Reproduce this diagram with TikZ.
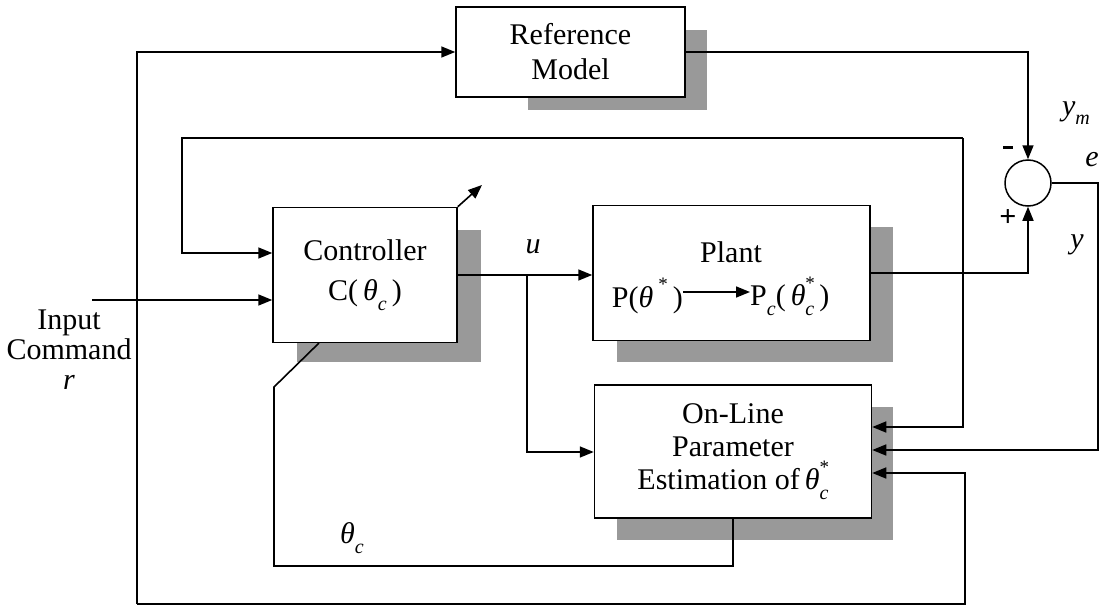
\documentclass[tikz,border=0pt]{standalone}
\usepackage{fontspec}
\setmainfont{Liberation Serif}
\usetikzlibrary{arrows.meta}
\newcommand{\lo}[1]{\raisebox{-0.32em}{\fontsize{20}{20}\selectfont\itshape #1}}
\newcommand{\hi}[1]{\raisebox{0.55em}{\fontsize{19}{19}\selectfont #1}}
\newcommand{\ssb}[2]{\rlap{\hi{#2}}\lo{#1}}
\newcommand{\thet}{{\itshape θ}}
\begin{document}
\begin{tikzpicture}[x=1pt,y=-1pt,
  font=\fontsize{30}{35}\selectfont,
  blk/.style={draw,line width=1.5pt,fill=white,inner sep=0pt,align=center},
  shd/.style={fill=black!40},
  ln/.style={line width=1.6pt},
  arr/.style={line width=1.6pt,-{Triangle[length=14pt,width=11pt]}},
  lbl/.style={inner sep=0pt}]
\useasboundingbox (0,0) rectangle (1100,610);
\fill[white] (0,0) rectangle (1100,610);
% shadows
\fill[shd] (528,30) rectangle (707,110);
\fill[shd] (297,230) rectangle (481,362);
\fill[shd] (617,227) rectangle (893,362);
\fill[shd] (617,407) rectangle (893,540);
% blocks
\node[blk,minimum width=229pt,minimum height=90pt] (ref) at (570.5,52) {Reference\\Model};
\node[blk,minimum width=184pt,minimum height=135pt,font=\fontsize{30}{40}\selectfont] (ctrl) at (365,275) {Controller\\C(\,\thet\lo{c}\,)};
\node[blk,minimum width=277pt,minimum height=135pt] (plant) at (731.5,273) {};
\node[blk,minimum width=277pt,minimum height=133pt,font=\fontsize{30}{33}\selectfont] (est) at (733,451.5) {On-Line\\Parameter\\Estimation of\,\thet\ssb{c}{*}};
\node[draw,circle,line width=1.5pt,minimum size=46pt,inner sep=0pt] (sum) at (1028,183) {};
% plant contents
\node[lbl] (ptitle) at (731,252) {Plant};
\node[lbl,anchor=east] (p1) at (683,296) {P(\thet\,\hi{*}\,)};
\node[lbl,anchor=west] (p2) at (750,296) {P\lo{c}(\,\thet\ssb{c}{*}\,)};
\draw[arr] (p1.east |- 0,292) -- (p2.west |- 0,292);
% coordinates
\coordinate (rin) at (92,300);
\coordinate (lt) at (137,52);
\coordinate (lb) at (137,604);
\coordinate (rb) at (965,604);
\coordinate (ft) at (963,138);
\coordinate (fl) at (182,138);
\coordinate (er) at (1098,183);
\coordinate (ub) at (527,275);
\coordinate (tb) at (733,566);
\coordinate (dg) at (274,387);
\coordinate (dgin) at (319,343);
\coordinate (tip) at (482,185);
% connectors
\draw[arr] (rin) -- (rin -| ctrl.west);
\draw[arr] (lb) -- (lt) -- (ref.west);
\draw[arr] (lb) -- (rb) |- (est.east |- 0,473);
\draw[arr] (ft) |- (est.east |- 0,427);
\draw[arr] (ft) -- (fl) -- (fl |- 0,253) -- (ctrl.west |- 0,253);
\draw[arr] (sum.east) -- (er) |- (est.east |- 0,450);
\draw[arr] (ref.east) -| (sum.north);
\draw[arr] (plant.east) -| (sum.south);
\draw[arr] (ctrl.east |- 0,275) -- (plant.west |- 0,275);
\draw[arr] (ub) |- (est.west |- 0,452);
\draw[ln] (est.south) -- (tb) -| (dg) -- (dgin);
\draw[arr] (ctrl.north east) -- (tip);
% labels
\node[lbl] (lu) at (533,247) {\itshape u};
\node[lbl] (lth) at (352,538) {\thet\lo{c}};
\node[lbl] (lym) at (1076,113) {{\itshape y}\lo{m}};
\node[lbl] (le) at (1092,160) {\itshape e};
\node[lbl] (ly) at (1077,245) {\itshape y};
\node[lbl] (lminus) at (1008,147) {\rule{10pt}{3pt}};
\node[lbl] (lplus) at (1008,218) {\bfseries +};
\node[lbl,align=center,font=\fontsize{30}{30}\selectfont] (lin) at (69,350) {Input\\Command\\\itshape r};
\end{tikzpicture}
\end{document}
